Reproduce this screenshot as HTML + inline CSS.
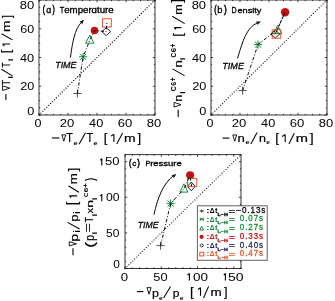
<!DOCTYPE html><html><head><meta charset="utf-8"><style>html,body{margin:0;padding:0;background:#fff;overflow:hidden}svg{display:block;will-change:transform}text{font-family:"Liberation Sans",sans-serif;font-kerning:none}</style></head><body>
<svg xmlns="http://www.w3.org/2000/svg" width="335" height="301" viewBox="0 0 335 301">
<rect width="335" height="301" fill="#fff"/>
<rect x="39.0" y="0.0" width="116.0" height="115.0" fill="none" stroke="#000" stroke-width="1" stroke-opacity="0.8"/>
<path d="M39.00,115.0v-2.2M39.00,0.0v2.2M46.25,115.0v-1.2M46.25,0.0v1.2M53.50,115.0v-1.2M53.50,0.0v1.2M60.75,115.0v-1.2M60.75,0.0v1.2M68.00,115.0v-2.2M68.00,0.0v2.2M75.25,115.0v-1.2M75.25,0.0v1.2M82.50,115.0v-1.2M82.50,0.0v1.2M89.75,115.0v-1.2M89.75,0.0v1.2M97.00,115.0v-2.2M97.00,0.0v2.2M104.25,115.0v-1.2M104.25,0.0v1.2M111.50,115.0v-1.2M111.50,0.0v1.2M118.75,115.0v-1.2M118.75,0.0v1.2M126.00,115.0v-2.2M126.00,0.0v2.2M133.25,115.0v-1.2M133.25,0.0v1.2M140.50,115.0v-1.2M140.50,0.0v1.2M147.75,115.0v-1.2M147.75,0.0v1.2M155.00,115.0v-2.2M155.00,0.0v2.2M39.0,115.00h2.2M155.0,115.00h-2.2M39.0,107.81h1.2M155.0,107.81h-1.2M39.0,100.62h1.2M155.0,100.62h-1.2M39.0,93.44h1.2M155.0,93.44h-1.2M39.0,86.25h2.2M155.0,86.25h-2.2M39.0,79.06h1.2M155.0,79.06h-1.2M39.0,71.88h1.2M155.0,71.88h-1.2M39.0,64.69h1.2M155.0,64.69h-1.2M39.0,57.50h2.2M155.0,57.50h-2.2M39.0,50.31h1.2M155.0,50.31h-1.2M39.0,43.12h1.2M155.0,43.12h-1.2M39.0,35.94h1.2M155.0,35.94h-1.2M39.0,28.75h2.2M155.0,28.75h-2.2M39.0,21.56h1.2M155.0,21.56h-1.2M39.0,14.38h1.2M155.0,14.38h-1.2M39.0,7.19h1.2M155.0,7.19h-1.2M39.0,0.00h2.2M155.0,0.00h-2.2" stroke="#000" stroke-width="0.9" stroke-opacity="0.8" fill="none"/>
<line x1="39.0" y1="115.0" x2="155.0" y2="0.0" stroke="#000" stroke-opacity="0.9" stroke-width="1.35" stroke-linecap="round" stroke-dasharray="0 2.72"/>
<rect x="211.0" y="0.0" width="116.0" height="115.0" fill="none" stroke="#000" stroke-width="1" stroke-opacity="0.8"/>
<path d="M211.00,115.0v-2.2M211.00,0.0v2.2M218.25,115.0v-1.2M218.25,0.0v1.2M225.50,115.0v-1.2M225.50,0.0v1.2M232.75,115.0v-1.2M232.75,0.0v1.2M240.00,115.0v-2.2M240.00,0.0v2.2M247.25,115.0v-1.2M247.25,0.0v1.2M254.50,115.0v-1.2M254.50,0.0v1.2M261.75,115.0v-1.2M261.75,0.0v1.2M269.00,115.0v-2.2M269.00,0.0v2.2M276.25,115.0v-1.2M276.25,0.0v1.2M283.50,115.0v-1.2M283.50,0.0v1.2M290.75,115.0v-1.2M290.75,0.0v1.2M298.00,115.0v-2.2M298.00,0.0v2.2M305.25,115.0v-1.2M305.25,0.0v1.2M312.50,115.0v-1.2M312.50,0.0v1.2M319.75,115.0v-1.2M319.75,0.0v1.2M327.00,115.0v-2.2M327.00,0.0v2.2M211.0,115.00h2.2M327.0,115.00h-2.2M211.0,107.81h1.2M327.0,107.81h-1.2M211.0,100.62h1.2M327.0,100.62h-1.2M211.0,93.44h1.2M327.0,93.44h-1.2M211.0,86.25h2.2M327.0,86.25h-2.2M211.0,79.06h1.2M327.0,79.06h-1.2M211.0,71.88h1.2M327.0,71.88h-1.2M211.0,64.69h1.2M327.0,64.69h-1.2M211.0,57.50h2.2M327.0,57.50h-2.2M211.0,50.31h1.2M327.0,50.31h-1.2M211.0,43.12h1.2M327.0,43.12h-1.2M211.0,35.94h1.2M327.0,35.94h-1.2M211.0,28.75h2.2M327.0,28.75h-2.2M211.0,21.56h1.2M327.0,21.56h-1.2M211.0,14.38h1.2M327.0,14.38h-1.2M211.0,7.19h1.2M327.0,7.19h-1.2M211.0,0.00h2.2M327.0,0.00h-2.2" stroke="#000" stroke-width="0.9" stroke-opacity="0.8" fill="none"/>
<line x1="211.0" y1="115.0" x2="327.0" y2="0.0" stroke="#000" stroke-opacity="0.8" stroke-width="1.35" stroke-linecap="round" stroke-dasharray="0 2.72"/>
<rect x="125.0" y="154.6" width="116.0" height="113.9" fill="none" stroke="#000" stroke-width="1" stroke-opacity="0.8"/>
<path d="M125.00,268.5v-2.2M125.00,154.6v2.2M132.25,268.5v-1.2M132.25,154.6v1.2M139.50,268.5v-1.2M139.50,154.6v1.2M146.75,268.5v-1.2M146.75,154.6v1.2M154.00,268.5v-1.2M154.00,154.6v1.2M161.25,268.5v-2.2M161.25,154.6v2.2M168.50,268.5v-1.2M168.50,154.6v1.2M175.75,268.5v-1.2M175.75,154.6v1.2M183.00,268.5v-1.2M183.00,154.6v1.2M190.25,268.5v-1.2M190.25,154.6v1.2M197.50,268.5v-2.2M197.50,154.6v2.2M204.75,268.5v-1.2M204.75,154.6v1.2M212.00,268.5v-1.2M212.00,154.6v1.2M219.25,268.5v-1.2M219.25,154.6v1.2M226.50,268.5v-1.2M226.50,154.6v1.2M233.75,268.5v-2.2M233.75,154.6v2.2M241.00,268.5v-1.2M241.00,154.6v1.2M125.0,268.50h2.2M241.0,268.50h-2.2M125.0,261.38h1.2M241.0,261.38h-1.2M125.0,254.26h1.2M241.0,254.26h-1.2M125.0,247.14h1.2M241.0,247.14h-1.2M125.0,240.03h1.2M241.0,240.03h-1.2M125.0,232.91h2.2M241.0,232.91h-2.2M125.0,225.79h1.2M241.0,225.79h-1.2M125.0,218.67h1.2M241.0,218.67h-1.2M125.0,211.55h1.2M241.0,211.55h-1.2M125.0,204.43h1.2M241.0,204.43h-1.2M125.0,197.31h2.2M241.0,197.31h-2.2M125.0,190.19h1.2M241.0,190.19h-1.2M125.0,183.07h1.2M241.0,183.07h-1.2M125.0,175.96h1.2M241.0,175.96h-1.2M125.0,168.84h1.2M241.0,168.84h-1.2M125.0,161.72h2.2M241.0,161.72h-2.2M125.0,154.60h1.2M241.0,154.60h-1.2" stroke="#000" stroke-width="0.9" stroke-opacity="0.8" fill="none"/>
<line x1="125.0" y1="268.5" x2="241.0" y2="154.6" stroke="#000" stroke-opacity="0.75" stroke-width="1.35" stroke-linecap="round" stroke-dasharray="0 2.72"/>
<text transform="translate(19.73,8.69) scale(1.181,1.000)" font-size="11.02" font-weight="normal" font-style="normal" fill="#000" >80</text>
<text transform="translate(20.26,33.49) scale(1.122,1.000)" font-size="11.16" font-weight="normal" font-style="normal" fill="#000" >60</text>
<text transform="translate(20.01,62.19) scale(1.143,1.000)" font-size="11.16" font-weight="normal" font-style="normal" fill="#000" >40</text>
<text transform="translate(20.26,90.49) scale(1.154,1.000)" font-size="11.02" font-weight="normal" font-style="normal" fill="#000" >20</text>
<text transform="translate(27.30,114.99) scale(1.158,1.000)" font-size="11.02" font-weight="normal" font-style="normal" fill="#000" >0</text>
<text transform="translate(191.63,8.69) scale(1.181,1.000)" font-size="11.02" font-weight="normal" font-style="normal" fill="#000" >80</text>
<text transform="translate(192.16,33.49) scale(1.122,1.000)" font-size="11.16" font-weight="normal" font-style="normal" fill="#000" >60</text>
<text transform="translate(191.91,62.19) scale(1.143,1.000)" font-size="11.16" font-weight="normal" font-style="normal" fill="#000" >40</text>
<text transform="translate(192.16,90.49) scale(1.154,1.000)" font-size="11.02" font-weight="normal" font-style="normal" fill="#000" >20</text>
<text transform="translate(199.20,114.99) scale(1.158,1.000)" font-size="11.02" font-weight="normal" font-style="normal" fill="#000" >0</text>
<text transform="translate(34.61,126.79) scale(1.139,1.000)" font-size="11.02" font-weight="normal" font-style="normal" fill="#000" >0</text>
<text transform="translate(59.74,126.79) scale(1.189,1.000)" font-size="11.02" font-weight="normal" font-style="normal" fill="#000" >20</text>
<text transform="translate(89.11,126.79) scale(1.158,1.000)" font-size="11.02" font-weight="normal" font-style="normal" fill="#000" >40</text>
<text transform="translate(117.73,126.79) scale(1.190,1.000)" font-size="11.02" font-weight="normal" font-style="normal" fill="#000" >60</text>
<text transform="translate(146.83,126.79) scale(1.181,1.000)" font-size="11.02" font-weight="normal" font-style="normal" fill="#000" >80</text>
<text transform="translate(206.61,126.79) scale(1.139,1.000)" font-size="11.02" font-weight="normal" font-style="normal" fill="#000" >0</text>
<text transform="translate(231.74,126.79) scale(1.189,1.000)" font-size="11.02" font-weight="normal" font-style="normal" fill="#000" >20</text>
<text transform="translate(261.11,126.79) scale(1.158,1.000)" font-size="11.02" font-weight="normal" font-style="normal" fill="#000" >40</text>
<text transform="translate(289.73,126.79) scale(1.190,1.000)" font-size="11.02" font-weight="normal" font-style="normal" fill="#000" >60</text>
<text transform="translate(318.83,126.79) scale(1.181,1.000)" font-size="11.02" font-weight="normal" font-style="normal" fill="#000" >80</text>
<path d="M101.80,158.40V165.40M101.80,158.50L100.30,160.30" stroke="#000" stroke-width="1.1" fill="none"/>
<text transform="translate(105.08,165.40) scale(1.250,1.000)" font-size="10.45" font-weight="normal" font-style="normal" fill="#000" >50</text>
<path d="M101.80,194.30V201.30M101.80,194.40L100.30,196.20" stroke="#000" stroke-width="1.1" fill="none"/>
<text transform="translate(106.02,201.30) scale(1.166,1.000)" font-size="10.45" font-weight="normal" font-style="normal" fill="#000" >00</text>
<text transform="translate(106.12,236.60) scale(1.148,1.000)" font-size="10.45" font-weight="normal" font-style="normal" fill="#000" >50</text>
<text transform="translate(113.13,268.30) scale(1.141,1.000)" font-size="10.45" font-weight="normal" font-style="normal" fill="#000" >0</text>
<text transform="translate(120.69,280.59) scale(1.196,1.000)" font-size="11.02" font-weight="normal" font-style="normal" fill="#000" >0</text>
<text transform="translate(153.29,280.59) scale(1.160,1.000)" font-size="11.02" font-weight="normal" font-style="normal" fill="#000" >50</text>
<path d="M189.40,273.20V280.60M189.40,273.30L187.60,275.10" stroke="#000" stroke-width="1.1" fill="none"/>
<text transform="translate(192.97,280.59) scale(1.220,1.000)" font-size="11.02" font-weight="normal" font-style="normal" fill="#000" >00</text>
<path d="M225.40,273.20V280.60M225.40,273.30L223.80,275.10" stroke="#000" stroke-width="1.1" fill="none"/>
<text transform="translate(228.04,280.59) scale(1.274,1.000)" font-size="11.02" font-weight="normal" font-style="normal" fill="#000" >50</text>
<path d="M73.30,93.50h8.20M77.40,89.40v8.20" stroke="#222" stroke-width="0.75" fill="none"/>
<path d="M79.00,56.80h8.20M83.10,52.70v8.20M80.02,53.72l6.15,6.15M80.02,59.88l6.15,-6.15" stroke="#16893c" stroke-width="1" fill="none"/>
<path d="M89.80,35.20L94.00,43.20L85.60,43.20Z" stroke="#16893c" stroke-width="1" fill="none"/>
<circle cx="94.5" cy="30.5" r="3.8" fill="#c41212"/>
<path d="M106.20,27.60L110.60,31.60L106.20,35.60L101.80,31.60Z" stroke="#1c1c56" stroke-width="1" fill="none"/>
<rect x="102.50" y="18.80" width="8.80" height="8.20" stroke="#e05522" stroke-width="1" fill="none"/>
<path d="M77.40,93.50L83.10,56.80L89.80,40.40L94.50,30.50L106.20,31.60L106.90,22.90" stroke="#000" stroke-width="0.95" fill="none" stroke-dasharray="3.4 1.8 1 1.8"/>
<path d="M238.50,90.60h8.20M242.60,86.50v8.20" stroke="#222" stroke-width="0.75" fill="none"/>
<path d="M253.90,44.60h8.20M258.00,40.50v8.20M254.93,41.52l6.15,6.15M254.93,47.68l6.15,-6.15" stroke="#16893c" stroke-width="1" fill="none"/>
<path d="M277.60,25.40L281.80,33.70L273.40,33.70Z" stroke="#16893c" stroke-width="1" fill="none"/>
<circle cx="285.1" cy="12.3" r="4.2" fill="#c41212"/>
<path d="M275.30,30.00L279.80,34.00L275.30,38.00L270.80,34.00Z" stroke="#1c1c56" stroke-width="1" fill="none"/>
<rect x="272.20" y="29.80" width="8.60" height="8.40" stroke="#e05522" stroke-width="1" fill="none"/>
<path d="M242.60,90.60L258.00,44.60L277.30,29.50L285.10,12.30L275.30,34.00L276.50,34.00" stroke="#000" stroke-width="0.95" fill="none" stroke-dasharray="3.4 1.8 1 1.8"/>
<path d="M156.50,245.60h8.20M160.60,241.50v8.20" stroke="#222" stroke-width="0.75" fill="none"/>
<path d="M166.50,203.60h8.20M170.60,199.50v8.20M167.53,200.53l6.15,6.15M167.53,206.67l6.15,-6.15" stroke="#16893c" stroke-width="1" fill="none"/>
<path d="M183.90,183.80L187.80,192.10L180.00,192.10Z" stroke="#16893c" stroke-width="1" fill="none"/>
<circle cx="190.1" cy="175.3" r="4" fill="#c41212"/>
<path d="M191.30,182.10L195.30,186.40L191.30,190.70L187.30,186.40Z" stroke="#1c1c56" stroke-width="1" fill="none"/>
<rect x="187.60" y="178.40" width="9.20" height="8.20" stroke="#e05522" stroke-width="1" fill="none"/>
<path d="M160.60,245.60L170.60,203.60L184.10,188.80L190.10,175.30L191.30,186.20L192.20,182.50" stroke="#000" stroke-width="0.95" fill="none" stroke-dasharray="3.4 1.8 1 1.8"/>
<text transform="translate(55.20,67.90) scale(0.903,1.000)" font-size="9.88" font-weight="normal" font-style="italic" fill="#000" stroke="#000" stroke-width="0.3">TIME</text>
<path d="M70.4,57.7C72.5,42 74.5,30 81.5,22.0" stroke="#000" stroke-width="0.95" fill="none"/>
<path d="M83.9,19.7L82.20,24.38L81.34,22.51L79.40,21.82Z" fill="#000"/>
<text transform="translate(222.28,68.50) scale(0.921,1.000)" font-size="9.88" font-weight="normal" font-style="italic" fill="#000" stroke="#000" stroke-width="0.3">TIME</text>
<path d="M237.5,58.4C243,40 247,27 257.5,22.9" stroke="#000" stroke-width="0.95" fill="none"/>
<path d="M260.8,21.5L257.23,24.97L257.27,22.91L255.82,21.44Z" fill="#000"/>
<text transform="translate(137.72,227.90) scale(0.881,1.000)" font-size="9.88" font-weight="normal" font-style="italic" fill="#000" stroke="#000" stroke-width="0.3">TIME</text>
<path d="M154,214.7C157.5,198 163,184 173.5,175.5" stroke="#000" stroke-width="0.95" fill="none"/>
<path d="M176.3,174.0L173.77,178.28L173.26,176.28L171.48,175.25Z" fill="#000"/>
<text transform="translate(42.68,12.51) scale(0.673,1.000)" font-size="10.09" font-weight="normal" font-style="normal" fill="#000" stroke="#000" stroke-width="0.6">(</text>
<text transform="translate(52.46,12.51) scale(0.673,1.000)" font-size="10.09" font-weight="normal" font-style="normal" fill="#000" stroke="#000" stroke-width="0.6">)</text>
<text transform="translate(46.33,12.60) scale(1.088,1)" font-size="8.18" font-weight="normal" font-style="normal" fill="#000" stroke="#000" stroke-width="0.3">ɑ</text>
<text transform="translate(59.63,12.60) scale(0.786,1)" font-size="9.45" font-weight="normal" font-style="normal" fill="#000" stroke="#000" stroke-width="0.3">T</text>
<text transform="translate(64.19,12.60) scale(1.185,1)" font-size="8.18" font-weight="normal" font-style="normal" fill="#000" stroke="#000" stroke-width="0.3">emperɑture</text>
<text transform="translate(214.36,12.77) scale(0.695,1.000)" font-size="10.30" font-weight="normal" font-style="normal" fill="#000" stroke="#000" stroke-width="0.6">(</text>
<text transform="translate(224.05,12.77) scale(0.805,1.000)" font-size="10.30" font-weight="normal" font-style="normal" fill="#000" stroke="#000" stroke-width="0.6">)</text>
<text transform="translate(217.30,12.60) scale(1.064,1)" font-size="8.78" font-weight="normal" font-style="normal" fill="#000" stroke="#000" stroke-width="0.3">b</text>
<text transform="translate(231.52,12.60) scale(0.762,1)" font-size="9.30" font-weight="normal" font-style="normal" fill="#000" stroke="#000" stroke-width="0.3">D</text>
<text transform="translate(237.41,12.60) scale(1.150,1)" font-size="7.99" font-weight="normal" font-style="normal" fill="#000" stroke="#000" stroke-width="0.3">ensity</text>
<text transform="translate(128.96,165.56) scale(0.726,1.000)" font-size="9.88" font-weight="normal" font-style="normal" fill="#000" stroke="#000" stroke-width="0.6">(</text>
<text transform="translate(137.35,165.56) scale(0.802,1.000)" font-size="9.88" font-weight="normal" font-style="normal" fill="#000" stroke="#000" stroke-width="0.6">)</text>
<text transform="translate(132.16,165.70) scale(1.149,1)" font-size="7.06" font-weight="normal" font-style="normal" fill="#000" stroke="#000" stroke-width="0.3">c</text>
<text transform="translate(145.61,165.70) scale(0.893,1)" font-size="7.99" font-weight="normal" font-style="normal" fill="#000" stroke="#000" stroke-width="0.3">P</text>
<text transform="translate(150.17,165.70) scale(1.344,1)" font-size="7.06" font-weight="normal" font-style="normal" fill="#000" stroke="#000" stroke-width="0.3">ressure</text>
<line x1="52.0" y1="138.0" x2="59.4" y2="138.0" stroke="#000" stroke-width="1.1"/>
<path d="M61.80,134.85L65.80,134.85L63.80,141.20Z" fill="none" stroke="#000" stroke-width="0.9" stroke-linejoin="miter"/>
<text transform="translate(66.35,142.20) scale(0.877,1.000)" font-size="12.50" font-weight="normal" font-style="normal" fill="#000" stroke="#000" stroke-width="0.2">T</text>
<text transform="translate(73.61,144.64) scale(1.238,1.000)" font-size="6.02" font-weight="bold" font-style="normal" fill="#000" >e</text>
<line x1="79.10" y1="144.30" x2="85.40" y2="132.70" stroke="#000" stroke-width="1.05"/>
<text transform="translate(86.55,142.20) scale(0.877,1.000)" font-size="12.50" font-weight="normal" font-style="normal" fill="#000" stroke="#000" stroke-width="0.2">T</text>
<text transform="translate(93.52,144.64) scale(1.203,1.000)" font-size="6.02" font-weight="bold" font-style="normal" fill="#000" >e</text>
<text transform="translate(103.67,141.77) scale(1.033,1.000)" font-size="12.66" font-weight="normal" font-style="normal" fill="#000" stroke="#000" stroke-width="0.2">[</text>
<path d="M113.90,134.20V142.10M113.90,134.30L110.90,136.10" stroke="#000" stroke-width="1.1" fill="none"/>
<line x1="116.80" y1="144.00" x2="122.60" y2="133.00" stroke="#000" stroke-width="1.05"/>
<text transform="translate(124.07,142.20) scale(1.320,1.000)" font-size="10.59" font-weight="normal" font-style="normal" fill="#000" stroke="#000" stroke-width="0.2">m</text>
<text transform="translate(137.40,141.77) scale(1.033,1.000)" font-size="12.66" font-weight="normal" font-style="normal" fill="#000" stroke="#000" stroke-width="0.2">]</text>
<line x1="222.5" y1="138.1" x2="229.4" y2="138.1" stroke="#000" stroke-width="1.1"/>
<path d="M232.80,134.95L236.70,134.95L234.75,141.20Z" fill="none" stroke="#000" stroke-width="0.9" stroke-linejoin="miter"/>
<text transform="translate(237.52,142.30) scale(1.267,1.000)" font-size="10.41" font-weight="normal" font-style="normal" fill="#000" stroke="#000" stroke-width="0.2">n</text>
<text transform="translate(245.52,144.44) scale(1.203,1.000)" font-size="6.02" font-weight="bold" font-style="normal" fill="#000" >e</text>
<line x1="250.80" y1="144.00" x2="257.10" y2="132.60" stroke="#000" stroke-width="1.05"/>
<text transform="translate(258.97,142.30) scale(1.199,1.000)" font-size="10.41" font-weight="normal" font-style="normal" fill="#000" stroke="#000" stroke-width="0.2">n</text>
<text transform="translate(266.25,144.44) scale(1.066,1.000)" font-size="6.02" font-weight="bold" font-style="normal" fill="#000" >e</text>
<text transform="translate(275.23,141.90) scale(1.082,1.000)" font-size="12.55" font-weight="normal" font-style="normal" fill="#000" stroke="#000" stroke-width="0.2">[</text>
<path d="M285.20,134.50V142.30M285.20,134.60L282.10,136.40" stroke="#000" stroke-width="1.1" fill="none"/>
<line x1="288.90" y1="144.10" x2="294.30" y2="133.20" stroke="#000" stroke-width="1.05"/>
<text transform="translate(295.82,142.40) scale(1.438,1.000)" font-size="10.22" font-weight="normal" font-style="normal" fill="#000" stroke="#000" stroke-width="0.2">m</text>
<text transform="translate(309.69,141.90) scale(1.122,1.000)" font-size="12.55" font-weight="normal" font-style="normal" fill="#000" stroke="#000" stroke-width="0.2">]</text>
<line x1="136.9" y1="291.6" x2="143.5" y2="291.6" stroke="#000" stroke-width="1.1"/>
<path d="M147.00,287.65L151.10,287.65L149.05,294.20Z" fill="none" stroke="#000" stroke-width="0.9" stroke-linejoin="miter"/>
<text transform="translate(152.00,296.60) scale(1.079,1.000)" font-size="11.54" font-weight="normal" font-style="normal" fill="#000" stroke="#000" stroke-width="0.2">p</text>
<text transform="translate(159.04,299.54) scale(1.171,1.000)" font-size="5.66" font-weight="bold" font-style="normal" fill="#000" >e</text>
<line x1="163.60" y1="298.00" x2="170.60" y2="286.40" stroke="#000" stroke-width="1.05"/>
<text transform="translate(172.83,296.60) scale(1.040,1.000)" font-size="11.54" font-weight="normal" font-style="normal" fill="#000" stroke="#000" stroke-width="0.2">p</text>
<text transform="translate(179.63,299.54) scale(1.208,1.000)" font-size="5.66" font-weight="bold" font-style="normal" fill="#000" >e</text>
<text transform="translate(190.03,295.64) scale(1.021,1.000)" font-size="13.30" font-weight="normal" font-style="normal" fill="#000" stroke="#000" stroke-width="0.2">[</text>
<path d="M200.50,287.60V295.80M200.50,287.70L198.00,289.50" stroke="#000" stroke-width="1.1" fill="none"/>
<line x1="203.50" y1="298.00" x2="208.60" y2="286.40" stroke="#000" stroke-width="1.05"/>
<text transform="translate(210.51,295.90) scale(1.337,1.000)" font-size="10.04" font-weight="normal" font-style="normal" fill="#000" stroke="#000" stroke-width="0.2">m</text>
<text transform="translate(224.00,295.64) scale(0.946,1.000)" font-size="13.30" font-weight="normal" font-style="normal" fill="#000" stroke="#000" stroke-width="0.2">]</text>
<line x1="5.9" y1="94.0" x2="5.9" y2="99.9" stroke="#000" stroke-width="1.1"/>
<path d="M2.55,85.80L2.55,90.50L9.70,88.15Z" fill="none" stroke="#000" stroke-width="0.9" stroke-linejoin="miter"/>
<text transform="rotate(-90) translate(-85.51,10.10) scale(0.796,1.000)" font-size="11.77" font-weight="normal" font-style="normal" fill="#000" stroke="#000" stroke-width="0.2">T</text>
<text transform="rotate(-90) translate(-78.66,12.80) scale(1.295,1.000)" font-size="7.31" font-weight="bold" font-style="normal" fill="#000" >i</text>
<line x1="1.50" y1="69.20" x2="12.40" y2="75.90" stroke="#000" stroke-width="1.05"/>
<text transform="rotate(-90) translate(-67.39,10.10) scale(0.721,1.000)" font-size="11.77" font-weight="normal" font-style="normal" fill="#000" stroke="#000" stroke-width="0.2">T</text>
<text transform="rotate(-90) translate(-61.36,12.80) scale(1.295,1.000)" font-size="7.31" font-weight="bold" font-style="normal" fill="#000" >i</text>
<text transform="rotate(-90) translate(-53.20,10.21) scale(0.969,1.000)" font-size="12.98" font-weight="normal" font-style="normal" fill="#000" stroke="#000" stroke-width="0.2">[</text>
<path d="M2.50,44.00H10.00M2.60,44.00L4.40,46.10" stroke="#000" stroke-width="1.1" fill="none"/>
<line x1="1.50" y1="33.70" x2="12.40" y2="39.90" stroke="#000" stroke-width="1.05"/>
<text transform="rotate(-90) translate(-32.11,10.10) scale(1.271,1.000)" font-size="10.78" font-weight="normal" font-style="normal" fill="#000" stroke="#000" stroke-width="0.2">m</text>
<text transform="rotate(-90) translate(-18.09,10.51) scale(0.853,1.000)" font-size="12.98" font-weight="normal" font-style="normal" fill="#000" stroke="#000" stroke-width="0.2">]</text>
<line x1="178.2" y1="109.8" x2="178.2" y2="117.0" stroke="#000" stroke-width="1.1"/>
<path d="M174.05,102.30L174.05,107.10L181.00,104.70Z" fill="none" stroke="#000" stroke-width="0.9" stroke-linejoin="miter"/>
<text transform="rotate(-90) translate(-101.64,181.50) scale(1.244,1.000)" font-size="10.22" font-weight="normal" font-style="normal" fill="#000" stroke="#000" stroke-width="0.2">n</text>
<text transform="rotate(-90) translate(-93.96,185.00) scale(1.271,1.000)" font-size="7.45" font-weight="bold" font-style="normal" fill="#000" >i</text>
<text transform="rotate(-90) translate(-91.28,175.93) scale(0.975,1.000)" font-size="7.06" font-weight="bold" font-style="normal" fill="#000" >C</text>
<text transform="rotate(-90) translate(-85.77,175.93) scale(1.025,1.000)" font-size="7.06" font-weight="bold" font-style="normal" fill="#000" >6</text>
<text transform="rotate(-90) translate(-81.28,176.15) scale(0.820,1.000)" font-size="8.27" font-weight="bold" font-style="normal" fill="#000" >+</text>
<line x1="172.40" y1="68.90" x2="184.60" y2="75.60" stroke="#000" stroke-width="1.05"/>
<text transform="rotate(-90) translate(-67.82,181.80) scale(1.289,1.000)" font-size="10.78" font-weight="normal" font-style="normal" fill="#000" stroke="#000" stroke-width="0.2">n</text>
<text transform="rotate(-90) translate(-60.26,185.00) scale(1.184,1.000)" font-size="8.00" font-weight="bold" font-style="normal" fill="#000" >i</text>
<text transform="rotate(-90) translate(-57.57,175.93) scale(0.931,1.000)" font-size="7.06" font-weight="bold" font-style="normal" fill="#000" >C</text>
<text transform="rotate(-90) translate(-52.29,175.93) scale(1.113,1.000)" font-size="7.06" font-weight="bold" font-style="normal" fill="#000" >6</text>
<text transform="rotate(-90) translate(-47.47,176.15) scale(0.772,1.000)" font-size="8.27" font-weight="bold" font-style="normal" fill="#000" >+</text>
<text transform="rotate(-90) translate(-36.77,181.79) scale(1.005,1.000)" font-size="13.52" font-weight="normal" font-style="normal" fill="#000" stroke="#000" stroke-width="0.2">[</text>
<path d="M174.10,27.60H181.40M174.20,27.60L176.00,29.40" stroke="#000" stroke-width="1.1" fill="none"/>
<line x1="172.20" y1="16.20" x2="184.70" y2="23.60" stroke="#000" stroke-width="1.05"/>
<text transform="rotate(-90) translate(-14.73,181.60) scale(1.165,1.000)" font-size="10.78" font-weight="normal" font-style="normal" fill="#000" stroke="#000" stroke-width="0.2">m</text>
<text transform="rotate(-90) translate(-2.59,182.14) scale(0.811,1.000)" font-size="14.27" font-weight="normal" font-style="normal" fill="#000" stroke="#000" stroke-width="0.2">]</text>
<line x1="73.0" y1="248.3" x2="73.0" y2="255.3" stroke="#000" stroke-width="1.1"/>
<path d="M69.25,241.70L69.25,245.90L76.40,243.80Z" fill="none" stroke="#000" stroke-width="0.9" stroke-linejoin="miter"/>
<text transform="rotate(-90) translate(-241.82,77.55) scale(1.205,1.000)" font-size="11.81" font-weight="normal" font-style="normal" fill="#000" stroke="#000" stroke-width="0.2">p</text>
<text transform="rotate(-90) translate(-232.41,80.00) scale(1.074,1.000)" font-size="8.14" font-weight="bold" font-style="normal" fill="#000" >i</text>
<line x1="67.60" y1="222.40" x2="79.60" y2="229.00" stroke="#000" stroke-width="1.05"/>
<text transform="rotate(-90) translate(-221.75,77.55) scale(1.111,1.000)" font-size="11.81" font-weight="normal" font-style="normal" fill="#000" stroke="#000" stroke-width="0.2">p</text>
<text transform="rotate(-90) translate(-213.81,80.00) scale(1.074,1.000)" font-size="8.14" font-weight="bold" font-style="normal" fill="#000" >i</text>
<text transform="rotate(-90) translate(-205.06,77.12) scale(0.787,1.000)" font-size="15.34" font-weight="normal" font-style="normal" fill="#000" stroke="#000" stroke-width="0.2">[</text>
<path d="M69.30,195.90H77.20M69.40,195.90L71.20,197.60" stroke="#000" stroke-width="1.1" fill="none"/>
<line x1="68.40" y1="185.70" x2="78.90" y2="192.30" stroke="#000" stroke-width="1.05"/>
<text transform="rotate(-90) translate(-184.18,77.30) scale(1.190,1.000)" font-size="11.15" font-weight="normal" font-style="normal" fill="#000" stroke="#000" stroke-width="0.2">m</text>
<text transform="rotate(-90) translate(-171.29,77.17) scale(0.849,1.000)" font-size="13.62" font-weight="normal" font-style="normal" fill="#000" stroke="#000" stroke-width="0.2">]</text>
<text transform="rotate(-90) translate(-247.68,94.03) scale(1.347,1.000)" font-size="12.88" font-weight="normal" font-style="normal" fill="#000" stroke="#000" stroke-width="0.2">(</text>
<text transform="rotate(-90) translate(-240.67,94.49) scale(0.865,1.000)" font-size="12.08" font-weight="normal" font-style="normal" fill="#000" stroke="#000" stroke-width="0.2">p</text>
<text transform="rotate(-90) translate(-234.21,96.50) scale(1.152,1.000)" font-size="7.59" font-weight="bold" font-style="normal" fill="#000" >i</text>
<text transform="rotate(-90) translate(-232.03,92.47) scale(1.424,1.000)" font-size="10.55" font-weight="normal" font-style="normal" fill="#000" stroke="#000" stroke-width="0.2">=</text>
<text transform="rotate(-90) translate(-222.19,93.30) scale(0.715,1.000)" font-size="11.63" font-weight="normal" font-style="normal" fill="#000" stroke="#000" stroke-width="0.2">T</text>
<text transform="rotate(-90) translate(-216.21,96.70) scale(1.174,1.000)" font-size="7.45" font-weight="bold" font-style="normal" fill="#000" >i</text>
<text transform="rotate(-90) translate(-213.42,93.30) scale(1.172,1.000)" font-size="9.46" font-weight="normal" font-style="normal" fill="#000" stroke="#000" stroke-width="0.2">x</text>
<text transform="rotate(-90) translate(-207.64,93.30) scale(1.520,1.000)" font-size="9.29" font-weight="normal" font-style="normal" fill="#000" stroke="#000" stroke-width="0.2">n</text>
<text transform="rotate(-90) translate(-199.91,96.70) scale(1.174,1.000)" font-size="7.45" font-weight="bold" font-style="normal" fill="#000" >i</text>
<text transform="rotate(-90) translate(-196.95,87.94) scale(1.083,1.000)" font-size="5.65" font-weight="bold" font-style="normal" fill="#000" >C</text>
<text transform="rotate(-90) translate(-192.30,87.94) scale(1.465,1.000)" font-size="5.65" font-weight="bold" font-style="normal" fill="#000" >6</text>
<text transform="rotate(-90) translate(-187.63,88.23) scale(1.191,1.000)" font-size="6.70" font-weight="bold" font-style="normal" fill="#000" >+</text>
<text transform="rotate(-90) translate(-181.06,94.03) scale(0.761,1.000)" font-size="12.88" font-weight="normal" font-style="normal" fill="#000" stroke="#000" stroke-width="0.2">)</text>
<rect x="197.4" y="205.8" width="69.8" height="54.5" fill="#fff" stroke="#000" stroke-width="1" stroke-opacity="0.62"/>
<path d="M199.70,211.00h4.20M201.80,209.50v3.00" stroke="#000" stroke-width="0.8" fill="none"/>
<text transform="translate(206.14,212.90) scale(1.257,1.000)" font-size="7.92" font-weight="bold" font-style="normal" fill="#000" >:</text>
<text transform="translate(209.73,212.90) scale(0.929,1.000)" font-size="7.27" font-weight="bold" font-style="normal" fill="#000" >Δ</text>
<text transform="translate(214.91,212.83) scale(1.049,1.000)" font-size="7.41" font-weight="bold" font-style="normal" fill="#000" >t</text>
<text transform="translate(217.54,215.80) scale(1.278,1.000)" font-size="4.22" font-weight="bold" font-style="normal" fill="#000" stroke="#000" stroke-width="0.28">L−H</text>
<text transform="translate(228.68,213.52) scale(1.113,1.000)" font-size="9.62" font-weight="normal" font-style="normal" fill="#000" stroke="#000" stroke-width="0.4">=</text>
<line x1="236.0" y1="210.4" x2="241.0" y2="210.4" stroke="#000" stroke-width="0.85"/>
<text transform="translate(241.88,212.81) scale(0.925,1.000)" font-size="8.76" font-weight="normal" font-style="normal" fill="#000" letter-spacing="1.0" stroke="#000" stroke-width="0.28">0.13s</text>
<path d="M199.70,217.82L203.90,220.62M199.70,220.62L203.90,217.82M199.70,219.22h4.20" stroke="#16893c" stroke-width="1.0" fill="none"/>
<text transform="translate(206.14,221.58) scale(1.257,1.000)" font-size="7.92" font-weight="bold" font-style="normal" fill="#16893c" >:</text>
<text transform="translate(209.73,221.58) scale(0.929,1.000)" font-size="7.27" font-weight="bold" font-style="normal" fill="#16893c" >Δ</text>
<text transform="translate(214.91,221.51) scale(1.049,1.000)" font-size="7.41" font-weight="bold" font-style="normal" fill="#16893c" >t</text>
<text transform="translate(217.54,224.48) scale(1.278,1.000)" font-size="4.22" font-weight="bold" font-style="normal" fill="#16893c" stroke="#16893c" stroke-width="0.28">L−H</text>
<text transform="translate(228.68,222.20) scale(1.113,1.000)" font-size="9.62" font-weight="normal" font-style="normal" fill="#16893c" stroke="#16893c" stroke-width="0.4">=</text>
<text transform="translate(239.79,221.49) scale(0.913,1.000)" font-size="8.76" font-weight="normal" font-style="normal" fill="#16893c" letter-spacing="1.0" stroke="#16893c" stroke-width="0.28">0.07s</text>
<path d="M201.65,226.24L203.55,230.04L199.75,230.04Z" stroke="#16893c" stroke-width="1.0" fill="none"/>
<text transform="translate(206.14,230.26) scale(1.257,1.000)" font-size="7.92" font-weight="bold" font-style="normal" fill="#16893c" >:</text>
<text transform="translate(209.73,230.26) scale(0.929,1.000)" font-size="7.27" font-weight="bold" font-style="normal" fill="#16893c" >Δ</text>
<text transform="translate(214.91,230.19) scale(1.049,1.000)" font-size="7.41" font-weight="bold" font-style="normal" fill="#16893c" >t</text>
<text transform="translate(217.54,233.16) scale(1.278,1.000)" font-size="4.22" font-weight="bold" font-style="normal" fill="#16893c" stroke="#16893c" stroke-width="0.28">L−H</text>
<text transform="translate(228.68,230.88) scale(1.113,1.000)" font-size="9.62" font-weight="normal" font-style="normal" fill="#16893c" stroke="#16893c" stroke-width="0.4">=</text>
<text transform="translate(239.79,230.17) scale(0.913,1.000)" font-size="8.76" font-weight="normal" font-style="normal" fill="#16893c" letter-spacing="1.0" stroke="#16893c" stroke-width="0.28">0.27s</text>
<circle cx="201.6" cy="236.86" r="2.1" fill="#c41212"/>
<text transform="translate(206.14,238.94) scale(1.257,1.000)" font-size="7.92" font-weight="bold" font-style="normal" fill="#c41212" >:</text>
<text transform="translate(209.73,238.94) scale(0.929,1.000)" font-size="7.27" font-weight="bold" font-style="normal" fill="#c41212" >Δ</text>
<text transform="translate(214.91,238.87) scale(1.049,1.000)" font-size="7.41" font-weight="bold" font-style="normal" fill="#c41212" >t</text>
<text transform="translate(217.54,241.84) scale(1.278,1.000)" font-size="4.22" font-weight="bold" font-style="normal" fill="#c41212" stroke="#c41212" stroke-width="0.28">L−H</text>
<text transform="translate(228.68,239.56) scale(1.113,1.000)" font-size="9.62" font-weight="normal" font-style="normal" fill="#c41212" stroke="#c41212" stroke-width="0.4">=</text>
<text transform="translate(239.79,238.85) scale(0.913,1.000)" font-size="8.76" font-weight="normal" font-style="normal" fill="#c41212" letter-spacing="1.0" stroke="#c41212" stroke-width="0.28">0.33s</text>
<path d="M201.80,243.78L203.80,245.48L201.80,247.18L199.80,245.48Z" stroke="#1c1c56" stroke-width="1.0" fill="none"/>
<text transform="translate(206.14,247.62) scale(1.257,1.000)" font-size="7.92" font-weight="bold" font-style="normal" fill="#1c1c56" >:</text>
<text transform="translate(209.73,247.62) scale(0.929,1.000)" font-size="7.27" font-weight="bold" font-style="normal" fill="#1c1c56" >Δ</text>
<text transform="translate(214.91,247.55) scale(1.049,1.000)" font-size="7.41" font-weight="bold" font-style="normal" fill="#1c1c56" >t</text>
<text transform="translate(217.54,250.52) scale(1.278,1.000)" font-size="4.22" font-weight="bold" font-style="normal" fill="#1c1c56" stroke="#1c1c56" stroke-width="0.28">L−H</text>
<text transform="translate(228.68,248.24) scale(1.113,1.000)" font-size="9.62" font-weight="normal" font-style="normal" fill="#1c1c56" stroke="#1c1c56" stroke-width="0.4">=</text>
<text transform="translate(239.79,247.53) scale(0.913,1.000)" font-size="8.76" font-weight="normal" font-style="normal" fill="#1c1c56" letter-spacing="1.0" stroke="#1c1c56" stroke-width="0.28">0.40s</text>
<rect x="199.80" y="252.25" width="4.00" height="3.70" stroke="#e05522" stroke-width="1.0" fill="none"/>
<text transform="translate(206.14,256.30) scale(1.257,1.000)" font-size="7.92" font-weight="bold" font-style="normal" fill="#e05522" >:</text>
<text transform="translate(209.73,256.30) scale(0.929,1.000)" font-size="7.27" font-weight="bold" font-style="normal" fill="#e05522" >Δ</text>
<text transform="translate(214.91,256.23) scale(1.049,1.000)" font-size="7.41" font-weight="bold" font-style="normal" fill="#e05522" >t</text>
<text transform="translate(217.54,259.20) scale(1.278,1.000)" font-size="4.22" font-weight="bold" font-style="normal" fill="#e05522" stroke="#e05522" stroke-width="0.28">L−H</text>
<text transform="translate(228.68,256.92) scale(1.113,1.000)" font-size="9.62" font-weight="normal" font-style="normal" fill="#e05522" stroke="#e05522" stroke-width="0.4">=</text>
<text transform="translate(239.79,256.21) scale(0.913,1.000)" font-size="8.76" font-weight="normal" font-style="normal" fill="#e05522" letter-spacing="1.0" stroke="#e05522" stroke-width="0.28">0.47s</text>
</svg></body></html>
